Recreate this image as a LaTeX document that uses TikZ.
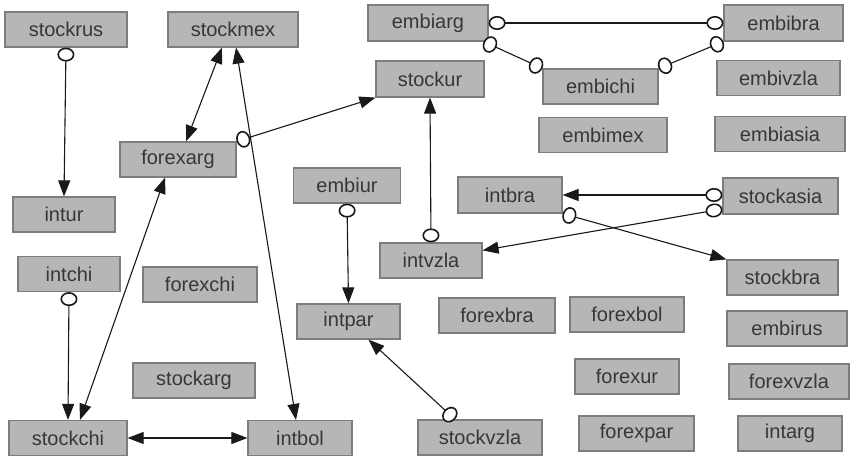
\documentclass[tikz,border=0pt]{standalone}
\usepackage{fontspec}
\usepackage{xcolor}
\usetikzlibrary{arrows.meta,positioning}
\newfontfamily\boxfont{Liberation Sans}
\definecolor{boxfill}{RGB}{182,182,182}
\definecolor{boxline}{RGB}{125,125,125}
\definecolor{boxtext}{RGB}{55,55,55}
\definecolor{linkcol}{RGB}{25,25,25}
\tikzset{
  var/.style={draw=boxline, line width=1.2pt, fill=boxfill, text=boxtext, minimum height=35pt, inner sep=0pt, font=\boxfont\fontsize{20pt}{24pt}\selectfont},
  link/.style={draw=linkcol, line width=1.1pt},
  circ/.tip={Circle[open, fill=white, length=14pt, width=17pt, line width=1.6pt]},
  hcirc/.tip={Circle[open, fill=white, length=17pt, width=14pt, line width=1.6pt]},
  arr/.tip={Triangle[length=16pt, width=12pt]}
}

\begin{document}
\begin{tikzpicture}[x=1pt, y=-1pt]
      \useasboundingbox[fill=white] (0,0) rectangle (853,457);
      \node[var, minimum width=122pt] (stockrus) at (66,29.5) {stockrus};
      \node[var, minimum width=130pt] (stockmex) at (233,29.5) {stockmex};
      \node[var, minimum width=120pt, minimum height=36pt] (embiarg) at (428,23) {embiarg};
      \node[var, minimum width=119pt, minimum height=36pt] (embibra) at (783.5,23) {embibra};
      \node[var, minimum width=108pt, minimum height=36pt] (stockur) at (430,79) {stockur};
      \node[var, minimum width=115pt] (embichi) at (600.5,86.5) {embichi};
      \node[var, minimum width=123pt] (embivzla) at (778.5,78) {embivzla};
      \node[var, minimum width=116pt] (forexarg) at (178,159.5) {forexarg};
      \node[var, minimum width=128pt] (embimex) at (603,135) {embimex};
      \node[var, minimum width=130pt] (embiasia) at (780,134) {embiasia};
      \node[var, minimum width=102pt] (intur) at (64,214.5) {intur};
      \node[var, minimum width=107pt] (embiur) at (347,185.5) {embiur};
      \node[var, minimum width=104pt, minimum height=36pt] (intbra) at (510,195) {intbra};
      \node[var, minimum width=115pt, minimum height=36pt] (stockasia) at (780.5,196) {stockasia};
      \node[var, minimum width=102pt] (intvzla) at (431,260.5) {intvzla};
      \node[var, minimum width=102pt] (intchi) at (69,274) {intchi};
      \node[var, minimum width=114pt] (forexchi) at (200,284.5) {forexchi};
      \node[var, minimum width=111pt] (stockbra) at (782.5,277.5) {stockbra};
      \node[var, minimum width=103pt] (intpar) at (348.5,321.5) {intpar};
      \node[var, minimum width=116pt] (forexbra) at (497,315.5) {forexbra};
      \node[var, minimum width=114pt] (forexbol) at (627,314.5) {forexbol};
      \node[var, minimum width=120pt] (embirus) at (787,328.5) {embirus};
      \node[var, minimum width=122pt] (stockarg) at (194,380.5) {stockarg};
      \node[var, minimum width=104pt] (forexur) at (627,376.5) {forexur};
      \node[var, minimum width=120pt] (forexvzla) at (789,381.5) {forexvzla};
      \node[var, minimum width=118pt] (stockchi) at (68,438) {stockchi};
      \node[var, minimum width=104pt] (intbol) at (300,438) {intbol};
      \node[var, minimum width=124pt] (stockvzla) at (480,437.5) {stockvzla};
      \node[var, minimum width=115pt] (forexpar) at (636.5,433.5) {forexpar};
      \node[var, minimum width=104pt] (intarg) at (790,433.5) {intarg};
      \draw[link, circ-arr] (stockrus.south) -- (intur.north);
      \draw[link, arr-arr] ([xshift=-11pt]stockmex.south) -- ([xshift=8pt]forexarg.north);
      \draw[link, arr-arr] ([xshift=3pt]stockmex.south) -- ([xshift=-4pt]intbol.north);
      \draw[link, circ-arr] (forexarg.north east) -- (stockur.south west);
      \draw[link, arr-arr] ([xshift=-13pt]forexarg.south) -- ([xshift=12pt]stockchi.north);
      \draw[link, circ-arr] (intchi.south) -- (stockchi.north);
      \draw[link, arr-arr] (stockchi.east) -- (intbol.west);
      \draw[link, hcirc-hcirc] (embiarg.east) -- (embibra.west);
      \draw[link, circ-circ] ([xshift=-5pt]embiarg.south east) -- (embichi.north west);
      \draw[link, circ-circ] (embibra.south west) -- (embichi.north east);
      \draw[link, circ-arr] (intvzla.north) -- (stockur.south);
      \draw[link, circ-arr] (embiur.south) -- (intpar.north);
      \draw[link, hcirc-arr] ([yshift=1pt]stockasia.west) -- (intbra.east);
      \draw[link, hcirc-arr] ([yshift=-13pt]stockasia.west) -- ([yshift=-8pt]intvzla.north east);
      \draw[link, circ-arr] (intbra.south east) -- (stockbra.north west);
      \draw[link, circ-arr] ([xshift=-25pt]stockvzla.north) -- ([xshift=20pt]intpar.south);
\end{tikzpicture}
\end{document}
